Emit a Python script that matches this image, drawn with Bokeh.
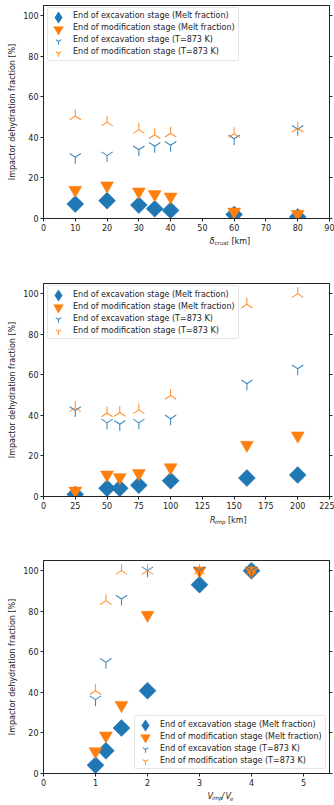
import numpy as np
from bokeh.plotting import figure
from bokeh.models import (Range1d, FixedTicker, LinearAxis, Legend, LegendItem,
                          Label, CustomJSTickFormatter, CDSView, IndexFilter)
from bokeh.layouts import column
from bokeh.embed import file_html
from bokeh.resources import INLINE

# ---------------- data ----------------
series_labels = [
    "End of excavation stage (Melt fraction)",
    "End of modification stage (Melt fraction)",
    "End of excavation stage (T=873 K)",
    "End of modification stage (T=873 K)",
]
y_ticks = [0, 20, 40, 60, 80, 100]

# Panel 1: crust thickness
crust_km = [10, 20, 30, 35, 40, 60, 80]
crust_exc_melt = [7.1, 8.8, 6.6, 4.8, 4.0, 2.0, 0.8]
crust_mod_melt = [14.0, 16.2, 13.2, 11.9, 10.7, 3.3, 2.2]
crust_exc_873 = [30.2, 31.0, 33.9, 35.6, 36.1, 39.3, 44.0]
crust_mod_873 = [50.5, 47.5, 43.8, 41.3, 42.0, 41.8, 44.5]
crust_xticks = [0, 10, 20, 30, 40, 50, 60, 70, 80, 90]

# Panel 2: impactor radius
rimp_km = [25, 50, 60, 75, 100, 160, 200]
rimp_exc_melt = [1.0, 4.1, 4.1, 5.6, 7.8, 9.1, 10.6]
rimp_mod_melt = [2.8, 10.7, 9.4, 11.4, 14.3, 25.4, 30.0]
rimp_exc_873 = [42.4, 36.3, 35.6, 36.3, 38.3, 55.6, 63.0]
rimp_mod_873 = [43.7, 41.2, 41.4, 42.7, 49.8, 94.8, 100.0]
rimp_xticks = [0, 25, 50, 75, 100, 125, 150, 175, 200, 225]

# Panel 3: impact velocity / escape velocity
vel_ratio = [1, 1.2, 1.5, 2, 3, 4]
vel_exc_melt = [4.1, 11.2, 22.4, 40.8, 93.1, 100.0]
vel_mod_melt = [10.9, 18.6, 33.7, 78.1, 100.0, 100.0]
vel_exc_873 = [36.4, 54.8, 86.0, 100.0, 100.0, 100.0]
vel_mod_873 = [40.8, 85.2, 100.0, 100.0, 100.0, 100.0]
vel_xticks = [0, 1, 2, 3, 4, 5]

BLUE = "#1f77b4"
ORANGE = "#ff7f0e"
FONT = "DejaVu Sans"
TXT = "#222222"
FRAME_H = 213
YMAX = 105

legend_extra = {}
if "border_radius" in Legend.properties():
    legend_extra["border_radius"] = 2


def make_panel(x, exc_melt, mod_melt, exc_873, mod_873, xmax, xticks,
               top, box_left, box_top):
    bottom = 18
    p = figure(width=334, height=top + FRAME_H + bottom, output_backend="svg",
               toolbar_location=None,
               x_range=Range1d(0, xmax), y_range=Range1d(0, YMAX),
               min_border_left=43, min_border_right=5,
               min_border_top=top, min_border_bottom=bottom)
    p.grid.visible = False
    p.outline_line_color = "#222222"
    p.outline_line_width = 1

    for ax, ticks in ((p.xaxis[0], xticks), (p.yaxis[0], y_ticks)):
        ax.ticker = FixedTicker(ticks=ticks)
        ax.minor_tick_line_color = None
        ax.major_tick_in = 0
        ax.major_tick_out = 3
        ax.major_label_standoff = 2
        ax.major_label_text_font = FONT
        ax.major_label_text_font_size = "8px"
        ax.major_label_text_color = TXT
        ax.axis_line_color = "#222222"
        ax.major_tick_line_color = "#222222"
    p.yaxis.axis_label = "Impactor dehydration fraction [%]"
    p.yaxis.axis_label_text_font = FONT
    p.yaxis.axis_label_text_font_size = "8px"
    p.yaxis.axis_label_text_font_style = "normal"
    p.yaxis.axis_label_text_color = TXT
    p.yaxis.axis_label_standoff = 3

    right = LinearAxis(ticker=FixedTicker(ticks=y_ticks),
                       formatter=CustomJSTickFormatter(code="return ''"),
                       major_tick_in=0, major_tick_out=3,
                       minor_tick_line_color=None,
                       major_label_standoff=0,
                       axis_line_color="#222222",
                       major_tick_line_color="#222222")
    p.add_layout(right, "right")

    p.scatter(x, exc_melt, marker="square", size=12, angle=np.pi / 4,
              fill_color=BLUE, line_color=BLUE, line_width=0.5)
    r2 = p.scatter(x, mod_melt, marker="inverted_triangle", size=13,
                   fill_color=ORANGE, line_color=ORANGE, line_width=0.5)
    r3 = p.scatter(x, exc_873, marker="y", size=13, line_color=BLUE,
                   line_width=1.1, line_alpha=0.85)
    r4 = p.scatter(x, mod_873, marker="y", size=13, angle=np.pi,
                   line_color=ORANGE, line_width=1.1, line_alpha=0.85)

    # legend-only diamond glyph: zero size in the plot, so only the legend shows it
    r1_leg = p.scatter(x, exc_melt, marker="diamond", size=0,
                       fill_color=BLUE, line_color=BLUE, line_width=0)
    empty = CDSView(filter=IndexFilter(indices=[]))
    r_blank = p.scatter(x, exc_melt, marker="circle", size=1,
                        fill_alpha=0, line_alpha=0, view=empty)

    # main legend: frame + texts
    pad = 2
    row = 12
    box_h = 2 * pad + 4 * row
    main = Legend(items=[LegendItem(label=lab, renderers=[r_blank])
                         for lab in series_labels],
                  location=(box_left, FRAME_H - box_top - box_h),
                  margin=0, padding=pad, spacing=0,
                  glyph_height=row, glyph_width=18, label_height=row,
                  label_width=163, label_standoff=5,
                  label_text_font=FONT, label_text_font_size="8px",
                  label_text_color=TXT,
                  border_line_color="#cccccc", border_line_width=1,
                  background_fill_color="white", background_fill_alpha=0.8,
                  **legend_extra)
    p.add_layout(main)

    # glyph overlays (one per row so the symbols can be larger than the row)
    gx = box_left + pad + 9
    for i, (rend, g) in enumerate([(r1_leg, 30), (r2, 24), (r3, 16), (r4, 16)]):
        cy = box_top + pad + row / 2 + row * i
        ov = Legend(items=[LegendItem(label=" ", renderers=[rend])],
                    location=(gx - g / 2, FRAME_H - (cy + g / 2)),
                    margin=0, padding=0, spacing=0,
                    glyph_height=g, glyph_width=g, label_height=g,
                    label_width=0, label_standoff=0,
                    label_text_font_size="1px",
                    border_line_color=None, background_fill_color=None,
                    background_fill_alpha=0)
        p.add_layout(ov)
    return p


def make_xlabel(height, baseline_from_top, parts):
    """Thin strip holding the x-axis label (with subscripts) under a panel."""
    f = figure(width=334, height=height, output_backend="svg",
               toolbar_location=None, x_range=Range1d(0, 1),
               y_range=Range1d(0, 1), x_axis_location=None,
               y_axis_location=None, min_border=0)
    f.grid.visible = False
    f.outline_line_color = None
    for text, sx, drop, size, style in parts:
        f.add_layout(Label(x=sx, y=height - baseline_from_top - drop,
                           x_units="screen", y_units="screen",
                           text=text, text_font=FONT, text_font_size=size,
                           text_font_style=style, text_color=TXT,
                           text_align="left", text_baseline="alphabetic"))
    return f


p1 = make_panel(crust_km, crust_exc_melt, crust_mod_melt, crust_exc_873,
                crust_mod_873, 90, crust_xticks, 5, 4, 3.5)
l1 = make_xlabel(34, 5, [("δ", 166, 0, "8px", "italic"),
                         ("crust", 171, 1.5, "5.6px", "italic"),
                         ("[km]", 188, 0, "8px", "normal")])
p2 = make_panel(rimp_km, rimp_exc_melt, rimp_mod_melt, rimp_exc_873,
                rimp_mod_873, 225, rimp_xticks, 13, 4, 4)
l2 = make_xlabel(26, 5.7, [("R", 166.5, 0, "8px", "italic"),
                           ("imp", 171.5, 1.5, "5.6px", "italic"),
                           ("[km]", 184.5, 0, "8px", "normal")])
p3 = make_panel(vel_ratio, vel_exc_melt, vel_mod_melt, vel_exc_873,
                vel_mod_873, 5.5, vel_xticks, 20, 91, 157)
l3 = make_xlabel(14, 5.3, [("V", 164, 0, "8px", "italic"),
                           ("imp", 168.5, 1.5, "5.6px", "italic"),
                           ("/", 178, 0, "8px", "italic"),
                           ("V", 182, 0, "8px", "italic"),
                           ("e", 186.5, 1.5, "5.6px", "italic")])

layout = column(p1, l1, p2, l2, p3, l3, spacing=0)
open("out.html", "w").write(file_html(layout, INLINE))
